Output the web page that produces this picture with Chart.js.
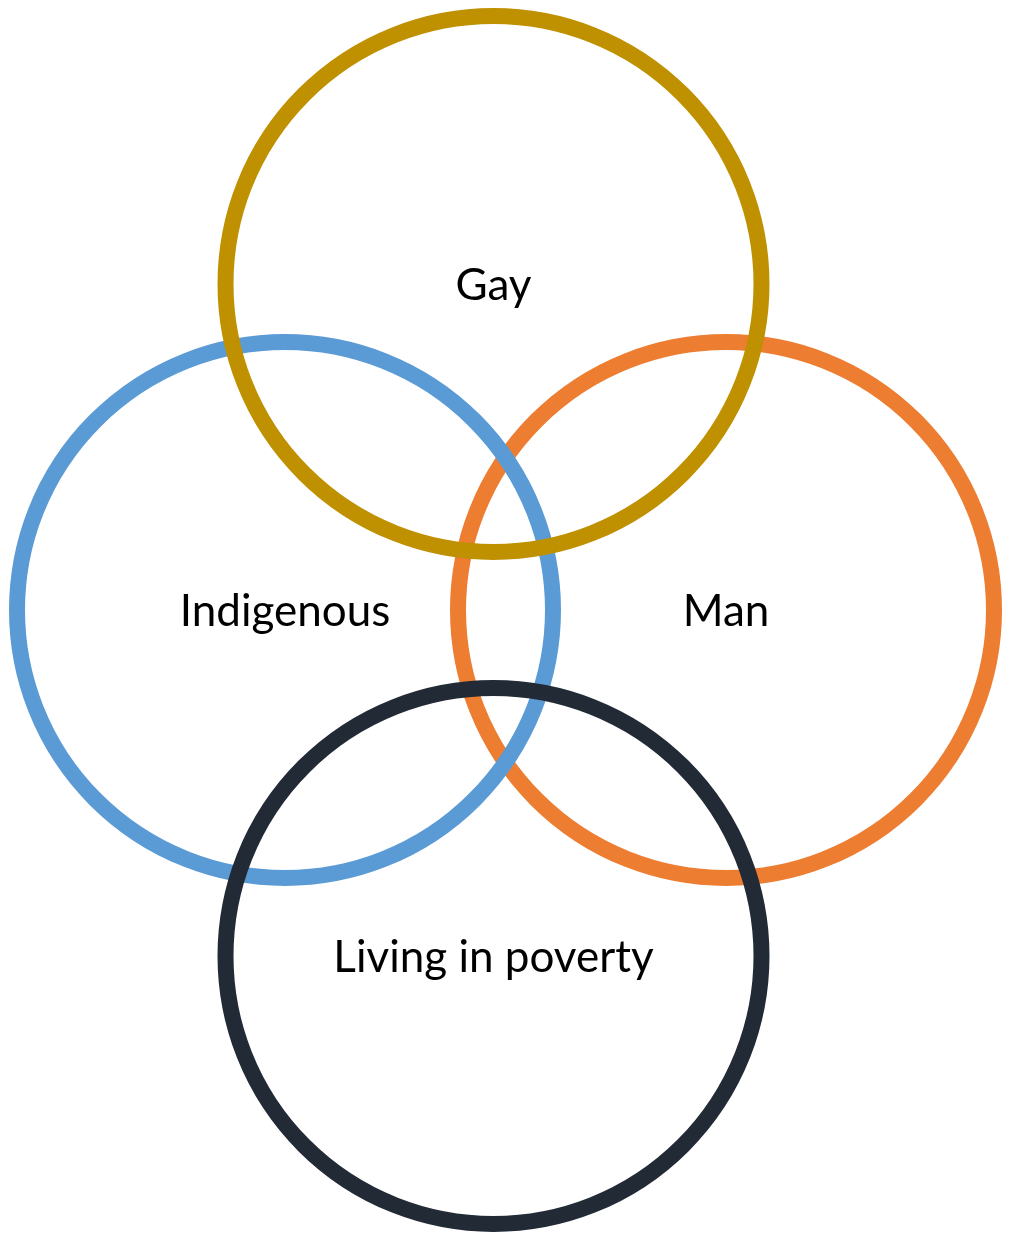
<!DOCTYPE html>
<html>
<head>
<meta charset="utf-8">
<script src="https://cdn.jsdelivr.net/npm/chart.js@4.4.0/dist/chart.umd.min.js"></script>
<style>
  body { margin: 0; background: #fff; }
</style>
</head>
<body>
<canvas id="venn" width="1013" height="1239"></canvas>
<script>
// circles, listed top-most first (Chart.js draws dataset 0 last)
const labels = ['Living in poverty', 'Gay', 'Indigenous', 'Man'];
const centerX = [493.5, 493.5, 285, 726];
const centerY = [956, 284, 610, 610];
const radius = [268, 268, 268, 268];
const colors = ['#222a35', '#bf9000', '#5b9bd5', '#ed7d31'];

// write each label in the middle of its circle
const circleLabels = {
    id: 'circleLabels',
    afterDatasetsDraw(chart) {
        const c = chart.ctx;
        c.save();
        c.font = '44px Lato';
        c.fillStyle = '#000';
        c.textAlign = 'center';
        c.textBaseline = 'middle';
        chart.data.datasets.forEach((ds, i) => {
            const pt = chart.getDatasetMeta(i).data[0];
            c.fillText(ds.label, pt.x, pt.y + 2);
        });
        c.restore();
    }
};

const ctx = document.getElementById('venn');
const vennChart = new Chart(ctx, {
    type: 'bubble',
    data: {
        datasets: labels.map((name, i) => ({
            label: name,
            data: [{ x: centerX[i], y: centerY[i], r: radius[i] }],
            backgroundColor: 'rgba(0,0,0,0)',
            borderColor: colors[i],
            borderWidth: 16,
            clip: false
        }))
    },
    options: {
        responsive: false,
        animation: false,
        events: [],
        layout: { padding: 0, autoPadding: false },
        scales: {
            x: { display: false, min: 0, max: 1013 },
            y: { display: false, min: 0, max: 1239, reverse: true }
        },
        plugins: {
            legend: { display: false },
            tooltip: { enabled: false }
        }
    },
    plugins: [circleLabels]
});
</script>
</body>
</html>
